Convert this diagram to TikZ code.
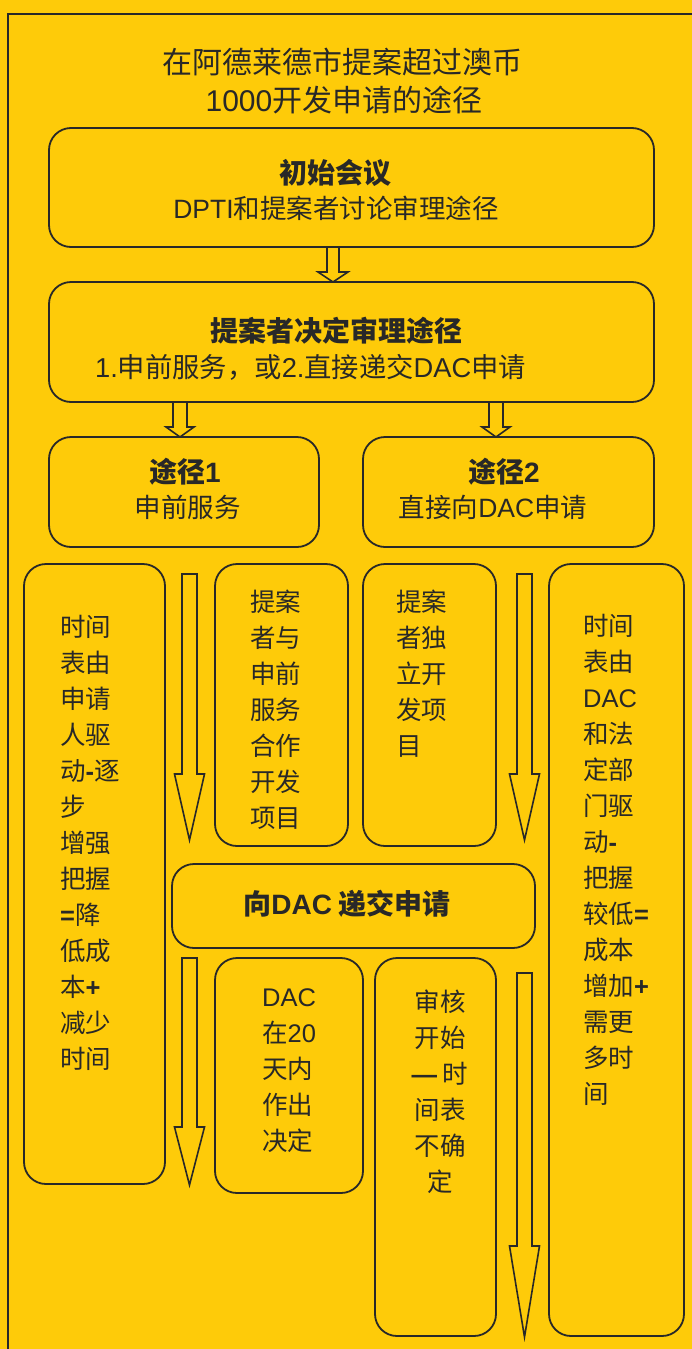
\documentclass[tikz,border=0pt]{standalone}
\usepackage{fontspec}
\setmainfont{Noto Sans CJK SC}
\newfontfamily\latf{Liberation Sans}
\newcommand{\lt}[1]{{\latf #1}}
\newcommand{\lb}[1]{{\latf\bfseries #1}}
\usetikzlibrary{calc}
\definecolor{bg}{RGB}{254,203,9}
\definecolor{ink}{RGB}{40,40,40}
\newcommand{\harr}[5]{%
\draw[arr] let \p1=(#1), \p2=(#2) in
 (\x1-#4,\y1) -- (\x1+#4,\y1) -- (\x1+#4,\y2+#3) -- (\x1+#5,\y2+#3) -- (\x1,\y2) -- (\x1-#5,\y2+#3) -- (\x1-#4,\y2+#3) -- cycle;}
\begin{document}
\begin{tikzpicture}[x=1pt,y=-1pt,
 box/.style={draw=ink,line width=1.8pt,rounded corners=22pt,inner sep=0pt},
 arr/.style={draw=ink,line width=1.6pt,line join=miter,fill=bg},
 ttl/.style={inner sep=0pt,text=ink,font=\fontsize{30}{38}\selectfont},
 head/.style={inner sep=0pt,text=ink,font=\fontsize{28}{34}\selectfont\bfseries},
 body/.style={inner sep=0pt,text=ink,font=\fontsize{26.5}{34}\selectfont},
 vtxt/.style={inner sep=0pt,text=ink,font=\fontsize{25.5}{36}\selectfont,align=left},
 ctxt/.style={inner sep=0pt,text=ink,font=\fontsize{25.5}{36}\selectfont,align=center}]
\fill[bg] (0,0) rectangle (692,1349);
\useasboundingbox (0,0) rectangle (692,1349);
\draw[ink,line width=1.8pt] (8,1349) -- (8,14) -- (692,14);
% title
\node[ttl] (t1) at (342.5,62) {在阿德莱德市提案超过澳币};
\node[ttl] (t2) at (344,100) {\lt{1000}开发申请的途径};
% boxes
\node[box,minimum width=605pt,minimum height=119pt] (b1) at (351.5,187.5) {};
\node[box,minimum width=605pt,minimum height=120pt] (b2) at (351.5,342) {};
\node[box,minimum width=270pt,minimum height=110pt] (b3) at (184,492) {};
\node[box,minimum width=291pt,minimum height=110pt] (b4) at (508.5,492) {};
\node[box,minimum width=141pt,minimum height=620pt] (bL) at (94.5,874) {};
\node[box,minimum width=133pt,minimum height=282pt] (bM1) at (281.5,705) {};
\node[box,minimum width=133pt,minimum height=282pt] (bM2) at (429.5,705) {};
\node[box,minimum width=135pt,minimum height=772pt] (bR) at (616.5,950) {};
\node[box,minimum width=363pt,minimum height=84pt] (b5) at (353.5,906) {};
\node[box,minimum width=148pt,minimum height=235pt] (b6) at (289,1075.5) {};
\node[box,minimum width=121pt,minimum height=378pt] (b7) at (435.5,1147) {};
% box texts
\node[head] (h1) at (335,173) {初始会议};
\node[body] (s1) at (336,208) {\lt{DPTI}和提案者讨论审理途径};
\node[head] (h2) at (336,331) {提案者决定审理途径};
\node[body,anchor=west,font=\fontsize{27.3}{34}\selectfont] (s2) at (95,367) {\lt{1.}申前服务，或\lt{2.}直接递交\lt{DAC}申请};
\node[head] (h3) at (185,472) {途径\lt{1}};
\node[body] (s3) at (187.5,507) {申前服务};
\node[head] (h4) at (504,472) {途径\lt{2}};
\node[body] (s4) at (493,507) {直接向\lt{DAC}申请};
\node[head] (h5) at (347,904) {向\lt{DAC} 递交申请};
\node[vtxt,anchor=west] (vL) at (60,843) {时间\\表由\\申请\\人驱\\动\lb{-}逐\\步\\增强\\把握\\\lb{=}降\\低成\\本\lb{+}\\减少\\时间};
\node[vtxt,anchor=west] (vM1) at (250,709.5) {提案\\者与\\申前\\服务\\合作\\开发\\项目};
\node[vtxt,anchor=west] (vM2) at (396,673.5) {提案\\者独\\立开\\发项\\目};
\node[vtxt,anchor=west] (vR) at (583,859.5) {时间\\表由\\\lt{DAC}\\和法\\定部\\门驱\\动\lb{-}\\把握\\较低\lb{=}\\成本\\增加\lb{+}\\需更\\多时\\间};
\node[vtxt,anchor=west] (v6) at (262,1071) {\lt{DAC}\\在\lt{20}\\天内\\作出\\决定};
\node[ctxt] (v7) at (440,1092) {审核\\开始\\\lb{—} 时\\间表\\不确\\定};
% arrows
\coordinate (a1s) at (333,247); \coordinate (a1e) at (333,282);
\coordinate (a2s) at (180,402); \coordinate (a2e) at (180,437);
\coordinate (a3s) at (496,402); \coordinate (a3e) at (496,437);
\coordinate (a4s) at (189.5,574); \coordinate (a4e) at (189.5,840);
\coordinate (a5s) at (524.5,574); \coordinate (a5e) at (524.5,840);
\coordinate (a6s) at (189.5,958); \coordinate (a6e) at (189.5,1185);
\coordinate (a7s) at (524.5,973); \coordinate (a7e) at (524.5,1337);
\harr{a1s}{a1e}{10}{6}{15}
\harr{a2s}{a2e}{10}{7}{14}
\harr{a3s}{a3e}{10}{7}{14}
\harr{a4s}{a4e}{66}{7.5}{15}
\harr{a5s}{a5e}{66}{7.5}{15}
\harr{a6s}{a6e}{58}{7.5}{15}
\harr{a7s}{a7e}{91}{7.5}{15}
\end{tikzpicture}
\end{document}
